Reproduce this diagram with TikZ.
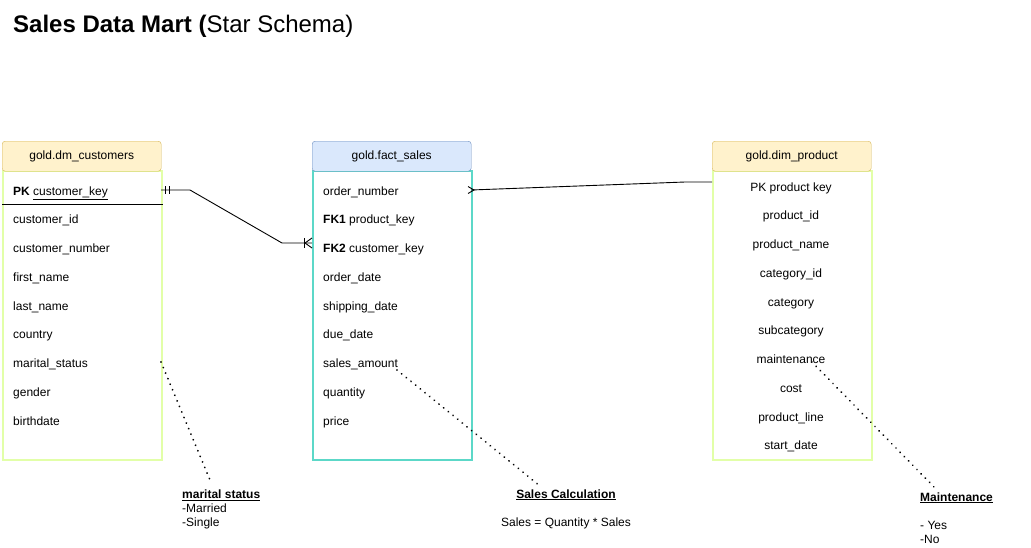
\documentclass[tikz,border=0pt]{standalone}
\usepackage{fontspec}
\setmainfont{Liberation Sans}
\usetikzlibrary{positioning}

\definecolor{dimfill}{HTML}{FFF2CC}
\definecolor{dimdraw}{HTML}{D6B656}
\definecolor{factfill}{HTML}{DAE8FC}
\definecolor{factdraw}{HTML}{6C8EBF}
\definecolor{dimbody}{HTML}{E2FFA8}
\definecolor{factbody}{HTML}{5CD8C8}

\tikzset{
    tablehead/.style={draw, rounded corners=3pt, minimum width=159pt, minimum height=30pt,
        anchor=north west, font=\fontsize{12}{14}\selectfont, inner sep=0pt},
    tablebody/.style={draw, line width=1.6pt, minimum width=159pt, minimum height=289pt,
        anchor=north west, inner sep=0pt},
    field/.style={font=\fontsize{12}{14}\selectfont, inner sep=0pt,
        text height=9pt, text depth=3pt},
    link/.style={line width=0.9pt},
    notedots/.style={line width=2pt, dash pattern=on 0.01pt off 6pt, line cap=round},
    notetext/.style={font=\fontsize{12}{14}\selectfont, inner sep=0pt, align=left}
}

\begin{document}
\begin{tikzpicture}[x=1pt, y=-1pt]
    \useasboundingbox (0,0) rectangle (1031,547);

    % title
    \node[anchor=base west, inner sep=0pt, font=\fontsize{24}{28}\selectfont] (title) at (13,32)
        {\textbf{Sales Data Mart (}Star Schema)};

    % customers
    \node[tablebody, draw=dimbody] (cust-body) at (2,170) {};
    \node[tablehead, fill=dimfill, draw=dimdraw] (cust-head) at (2,141) {gold.dm\_customers};
    \node[field, anchor=west] (cust-1) at (13,192) {\textbf{PK} \underline{customer\_key}};
    \foreach \name [count=\i from 2] in {customer\_id, customer\_number, first\_name, last\_name,
            country, marital\_status, gender, birthdate}{
        \node[field, anchor=west] (cust-\i) at (13, 192 + 28.75*\i - 28.75) {\name};
    }
    \draw[link] (cust-body.west |- 0,204) -- (cust-body.east |- 0,204);

    % fact
    \node[tablebody, draw=factbody] (fact-body) at (312,170) {};
    \node[tablehead, fill=factfill, draw=factdraw] (fact-head) at (312,141) {gold.fact\_sales};
    \foreach \name [count=\i] in {order\_number, \textbf{FK1} product\_key, \textbf{FK2} customer\_key,
            order\_date, shipping\_date, due\_date, sales\_amount, quantity, price}{
        \node[field, anchor=west] (fact-\i) at (323, 192 + 28.75*\i - 28.75) {\name};
    }

    % product
    \node[tablebody, draw=dimbody] (prod-body) at (712,170) {};
    \node[tablehead, fill=dimfill, draw=dimdraw] (prod-head) at (712,141) {gold.dim\_product};
    \foreach \name [count=\i] in {PK product key, product\_id, product\_name, category\_id, category,
            subcategory, maintenance, cost, product\_line, start\_date}{
        \node[field] (prod-\i) at (791, 188 + 28.75*\i - 28.75) {\name};
    }

    % customer -> fact
    \coordinate (c-end) at (161,190);
    \coordinate (f-end) at (312,243);
    \draw[link] (c-end) -- ++(29,0) -- (282,243) -- (f-end);
    \draw[link] (c-end) ++(4,-4) -- ++(0,8);
    \draw[link] (c-end) ++(8,-4) -- ++(0,8);
    \draw[link] (f-end) ++(-8,-5) -- ++(0,10);
    \draw[link] (f-end) ++(0,-5) -- ++(-7,5) -- ++(7,5);

    % fact -> product
    \coordinate (o-end) at (471,190);
    \coordinate (p-end) at (712,182);
    \draw[link] (o-end) -- (685,182) -- (p-end);
    \draw[link] (o-end) ++(-3,-3.5) -- ++(6,3.5) -- ++(-6,3.5);

    % notes
    \draw[notedots] (161,362) -- (210,480);
    \node[notetext, anchor=north west] (marital) at (182,490)
        {\textbf{\underline{marital status}}\\-Married\\-Single};

    \draw[notedots] (397,370) -- (540,486);
    \node[notetext, anchor=base] (salescalc) at (566,498) {\textbf{\underline{Sales Calculation}}};
    \node[notetext, anchor=base] (salesformula) at (566,526) {Sales = Quantity * Sales};

    \draw[notedots] (812,362) -- (935,488);
    \node[notetext, anchor=base west] (maint) at (920,501) {\textbf{\underline{Maintenance}}};
    \node[notetext, anchor=north west] (maintvals) at (920,521) {- Yes\\-No};
\end{tikzpicture}
\end{document}
